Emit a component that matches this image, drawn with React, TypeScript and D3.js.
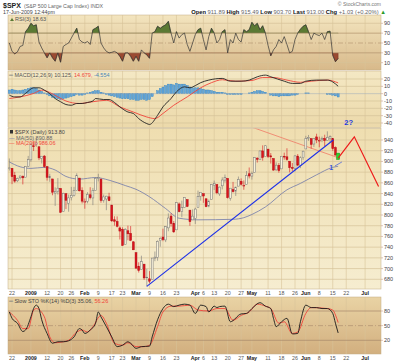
import * as d3 from "d3";

// trading days shown on the chart (day of month)
const DEC08 = [19, 22, 23, 24, 26, 29, 30, 31];
const JAN09 = [2, 5, 6, 7, 8, 9, 12, 13, 14, 15, 16, 20, 21, 22, 23, 26, 27, 28, 29, 30];
const FEB09 = [2, 3, 4, 5, 6, 9, 10, 11, 12, 13, 17, 18, 19, 20, 23, 24, 25, 26, 27];
const MAR09 = [2, 3, 4, 5, 6, 9, 10, 11, 12, 13, 16, 17, 18, 19, 20, 23, 24, 25, 26, 27, 30, 31];
const APR09 = [1, 2, 3, 6, 7, 8, 9, 13, 14, 15, 16, 17, 20, 21, 22, 23, 24, 27, 28, 29, 30];
const MAY09 = [1, 4, 5, 6, 7, 8, 11, 12, 13, 14, 15, 18, 19, 20, 21, 22, 26, 27, 28, 29];
const JUN09 = [1, 2, 3, 4, 5, 8, 9, 10, 11, 12, 15, 16, 17, 18, 19, 22, 23, 24, 25, 26, 29, 30];
const JUL09 = [1, 2, 6, 7, 8, 9, 10];

const MONTHS: [string, number[]][] = [
  ["2008-12", DEC08], ["2009-01", JAN09], ["2009-02", FEB09], ["2009-03", MAR09],
  ["2009-04", APR09], ["2009-05", MAY09], ["2009-06", JUN09], ["2009-07", JUL09],
];
const dates = MONTHS.flatMap(([m, ds]) => ds.map((d) => `${m}-${String(d).padStart(2, "0")}`));

const tickDates = [
  "2008-12-22", "2009-01-02", "2009-01-12", "2009-01-20", "2009-01-26", "2009-02-02", "2009-02-09",
  "2009-02-17", "2009-02-23", "2009-03-02", "2009-03-09", "2009-03-16", "2009-03-23", "2009-04-01",
  "2009-04-06", "2009-04-13", "2009-04-20", "2009-04-27", "2009-05-01", "2009-05-11", "2009-05-18",
  "2009-05-26", "2009-06-01", "2009-06-08", "2009-06-15", "2009-06-22", "2009-07-01",
];
const tickLabels = [
  "22", "2009", "12", "20", "26", "Feb", "9", "17", "23", "Mar", "9", "16", "23", "Apr",
  "6", "13", "20", "27", "May", "11", "18", "26", "Jun", "8", "15", "22", "Jul",
];

// daily OHLC, $SPX
const opens = [
  886.96, 887.2, 874.3, 863.9, 869.5, 872.4, 870.6, 890.6, 902.99, 929.2,
  931.2, 927.4, 905.7, 909.9, 890.4, 869.5, 867.3, 841.0, 844.5, 849.6,
  806.8, 839.7, 822.0, 832.5, 836.6, 845.7, 868.9, 845.7, 823.1, 825.7,
  837.8, 831.8, 846.1, 868.2, 866.9, 827.4, 829.9, 833.9, 818.6, 791.1,
  787.9, 775.9, 773.3, 744.7, 770.6, 765.8, 749.9, 729.6, 704.4, 698.6,
  708.3, 684.0, 680.8, 679.3, 719.6, 720.9, 751.97, 758.8, 753.5, 776.0,
  797.9, 784.6, 772.3, 820.6, 806.8, 814.1, 828.7, 809.1, 790.9, 793.6,
  814.5, 835.1, 839.8, 830.3, 816.8, 829.3, 855.7, 856.9, 839.4, 854.5,
  865.2, 868.3, 831.3, 847.3, 844.6, 853.9, 862.8, 854.5, 856.9, 877.0,
  872.7, 879.2, 906.1, 903.96, 919.6, 909.0, 922.99, 910.5, 905.4, 884.2,
  892.8, 886.1, 909.7, 908.6, 900.4, 888.7, 887.0, 909.9, 892.96, 907.0,
  923.3, 942.9, 942.5, 932.5, 945.7, 938.1, 940.4, 942.7, 939.0, 943.4,
  942.5, 925.6, 911.89,
];
const highs = [
  905.5, 887.4, 880.4, 869.8, 873.7, 873.7, 891.1, 910.3, 934.7, 936.6,
  943.9, 927.5, 910.0, 911.9, 890.4, 877.0, 867.3, 851.6, 868.9, 849.6,
  841.7, 839.7, 838.2, 852.5, 852.5, 877.9, 868.9, 851.7, 830.8, 842.6,
  851.9, 850.6, 870.7, 877.0, 868.1, 838.2, 835.9, 841.5, 818.6, 797.6,
  797.4, 778.7, 777.0, 775.5, 780.1, 779.4, 751.3, 729.6, 711.7, 724.1,
  708.3, 699.6, 695.3, 719.7, 731.9, 752.6, 758.3, 774.5, 779.4, 803.0,
  803.0, 788.9, 823.4, 823.4, 826.8, 832.9, 828.7, 809.1, 810.5, 813.6,
  845.6, 842.6, 839.8, 830.3, 828.9, 856.9, 864.3, 856.9, 853.0, 870.4,
  875.6, 868.3, 850.1, 861.8, 852.9, 871.8, 868.3, 864.5, 882.1, 888.7,
  880.9, 907.8, 907.7, 920.3, 930.0, 930.2, 922.99, 915.6, 905.4, 898.4,
  896.97, 910.0, 916.4, 924.6, 900.4, 896.97, 911.8, 913.8, 909.5, 920.0,
  947.8, 949.4, 942.5, 942.5, 951.7, 946.3, 946.4, 949.8, 956.2, 948.6,
  942.5, 928.0, 915.49,
];
const lows = [
  883.0, 857.6, 860.2, 861.4, 866.5, 857.1, 870.6, 889.9, 899.4, 919.5,
  927.3, 902.4, 896.2, 887.9, 864.3, 862.0, 836.9, 817.0, 838.2, 803.97,
  806.8, 811.1, 806.1, 827.2, 834.6, 845.7, 844.0, 821.7, 811.7, 821.8,
  829.2, 818.4, 846.1, 862.6, 822.99, 823.0, 808.98, 825.9, 787.0, 780.1,
  777.0, 754.3, 742.4, 744.7, 752.8, 751.2, 734.5, 699.7, 692.6, 698.6,
  678.9, 666.8, 672.9, 679.3, 713.8, 714.6, 740.9, 751.1, 749.4, 769.7,
  778.4, 766.6, 772.3, 805.1, 795.9, 814.1, 814.8, 779.8, 790.9, 783.3,
  814.5, 826.7, 822.8, 814.5, 814.5, 829.3, 846.6, 838.8, 835.6, 847.8,
  860.6, 830.7, 826.8, 842.0, 835.6, 853.9, 855.1, 847.1, 856.9, 868.3,
  866.1, 879.2, 897.9, 903.4, 901.4, 909.0, 906.4, 896.1, 882.6, 882.5,
  878.9, 886.1, 903.2, 901.4, 879.6, 881.5, 881.5, 891.0, 887.5, 903.0,
  923.3, 938.5, 923.9, 927.0, 934.1, 926.4, 936.0, 928.3, 939.0, 935.7,
  919.7, 910.9, 903.70,
];
const closes = [
  887.88, 871.63, 863.16, 868.15, 872.80, 869.42, 890.64, 903.25, 931.80, 927.45,
  934.70, 906.65, 909.73, 890.35, 870.26, 871.79, 842.62, 843.74, 850.12, 805.22,
  840.24, 827.50, 831.95, 836.57, 845.71, 874.09, 845.14, 825.88, 825.44, 838.51,
  832.23, 845.85, 868.60, 869.89, 827.16, 833.74, 835.19, 826.84, 789.17, 788.42,
  778.94, 770.05, 743.33, 773.14, 764.90, 752.83, 735.09, 700.82, 696.33, 712.87,
  682.55, 683.38, 676.53, 719.60, 721.36, 750.74, 756.55, 753.89, 778.12, 794.35,
  784.04, 768.54, 822.92, 806.12, 813.88, 832.86, 815.94, 787.53, 797.87, 811.08,
  834.38, 842.50, 835.48, 815.55, 825.16, 856.56, 858.73, 841.50, 852.06, 865.30,
  869.60, 832.39, 850.08, 843.55, 851.92, 866.23, 857.51, 855.16, 873.64, 872.81,
  877.52, 907.24, 903.80, 919.53, 907.39, 929.23, 909.24, 908.35, 883.92, 893.07,
  882.88, 909.71, 908.13, 903.47, 888.33, 887.00, 910.33, 893.06, 906.83, 919.14,
  942.87, 944.74, 931.76, 942.46, 940.09, 939.14, 942.43, 939.15, 944.89, 946.21,
  923.72, 911.97, 913.00,
];

// MA(50): [trading day, value]
const ma50: [number, number][] = [
  [0, 899], [4, 890], [8, 887], [13, 889], [17, 884], [21, 872], [26, 867], [32, 870],
  [37, 865], [43, 855], [47, 848], [52, 834], [58, 812], [63, 794], [70, 791], [83, 792],
  [87, 795], [90, 801], [95, 815], [103, 847], [108, 859], [114, 875], [120, 889], [122, 891],
];

// RSI(3), one value per trading day
const rsi = [
  50, 33, 28, 32, 43, 45, 73, 80, 90, 85, 87, 52, 40, 30, 20, 30, 20, 13, 30, 11,
  43, 47, 50, 60, 70, 80, 57, 52, 50, 53, 47, 77, 80, 84, 50, 40, 33, 30, 31, 33,
  30, 23, 13, 30, 30, 23, 13, 23, 13, 36, 30, 26, 19, 70, 73, 84, 80, 84, 87, 94,
  70, 50, 73, 60, 67, 70, 47, 33, 50, 67, 77, 80, 57, 36, 63, 80, 70, 50, 57, 73,
  77, 30, 57, 50, 70, 57, 52, 77, 73, 77, 92, 85, 90, 77, 85, 70, 45, 24, 36, 43,
  57, 50, 63, 47, 30, 33, 57, 70, 78, 84, 87, 73, 57, 70, 67, 65, 70, 57, 73, 74,
  25, 12, 18.63,
];

// MACD(12,26,9): line and signal as [trading day, value]
const macdLine: [number, number][] = [
  [0, -2], [2, -4.4], [4, -4.4], [6, 0.3], [9, 8], [11, 8], [13, 4.8], [15, 0], [17, -6.6],
  [19, -11], [21, -14.8], [23, -15.8], [25, -13.4], [27, -13.4], [29, -12], [31, -10],
  [32, -6.6], [35, -8], [37, -8], [39, -12], [41, -18], [44, -25], [46, -27], [48, -34],
  [51, -40.8], [52, -42], [55, -29.5], [57, -18], [60, -6.6], [62, 2.5], [65, 9.3],
  [67, 8], [69, 11], [71, 15], [74, 18.5], [79, 20.8], [82, 17], [86, 17], [89, 18.5],
  [92, 23], [95, 25.3], [97, 23], [102, 17], [105, 14], [108, 14], [110, 17], [114, 18.5],
  [118, 18.5], [120, 16], [122, 10.125],
];
const macdSignal: [number, number][] = [
  [0, -6.6], [4, -4.4], [9, 0.3], [12, 4.8], [15, 1.6], [18, -4.4], [21, -10], [26, -13.4],
  [31, -11], [36, -9], [41, -18], [46, -25], [51, -31.8], [54, -34], [57, -27], [61, -15.8],
  [66, -4.4], [71, 8], [75, 15], [79, 19], [84, 17], [90, 18], [94, 22], [98, 22],
  [103, 18.5], [108, 15.5], [112, 17], [118, 18.5], [122, 14.679],
];
const macdHist = [
  5, 6, 5, 4, 4, 5, 6, 7, 8, 8, 7, 5, 3, 1, -1, -3, -5, -6, -7, -8,
  -7, -6, -5, -4, -3, -1, -2, -2, -1, 1, 2, 3, 4, 4, 2, 1, -1, -2, -3, -4,
  -5, -6, -7, -7, -7, -8, -8, -9, -9, -8, -8, -9, -8, -4, 0, 4, 7, 9, 11, 13,
  13, 12, 14, 13, 13, 13, 11, 9, 8, 8, 8, 7, 6, 5, 5, 4, 3, 2, 2, 2,
  1, -1, -1, -1, -1, -1, -1, 0, 0, 1, 2, 3, 4, 4, 3, 2, 0, -2, -3, -3,
  -4, -3, -3, -3, -3, -2, -2, -1, 0, 0, 1, 1, 0, 0, 0, 0, 0, 0, -1, -1,
  -2, -3, -4.554,
];

// Slow STO %K(14) %D(3): [trading day, value]
const stoK: [number, number][] = [
  [0, 78], [1, 65], [3, 55], [5, 38], [6, 41], [8, 68], [9, 85], [10, 92], [11, 85],
  [12, 62], [14, 34], [16, 14], [18, 17], [20, 17], [22, 19], [24, 27], [26, 44], [27, 41],
  [28, 34], [30, 41], [32, 55], [33, 78], [34, 68], [36, 48], [38, 27], [40, 7], [42, 10],
  [44, 17], [45, 14], [47, 3.5], [49, 7], [52, 8], [53, 27], [55, 62], [57, 85], [59, 94],
  [61, 89], [63, 92], [65, 94], [67, 92], [69, 75], [71, 92], [73, 89], [74, 78], [76, 90],
  [77, 87], [78, 89], [80, 90], [82, 58], [86, 74], [88, 75], [90, 85], [93, 97], [95, 90],
  [97, 85], [98, 65], [99, 48], [101, 58], [103, 65], [105, 33], [107, 34], [108, 58],
  [110, 92], [112, 87], [114, 87], [116, 85], [118, 85], [120, 75], [121, 55], [122, 35.06],
];
const stoD: [number, number][] = [
  [0, 78], [3, 61], [5, 44], [7, 44], [9, 82], [10, 85], [13, 68], [15, 27], [17, 15],
  [20, 17], [22, 20], [25, 37], [27, 41], [29, 37], [31, 48], [34, 71], [36, 55], [39, 14],
  [42, 10], [44, 15], [47, 7], [50, 7], [52, 10], [55, 48], [57, 78], [60, 90], [63, 90],
  [67, 92], [70, 82], [74, 80], [77, 85], [80, 85], [83, 61], [86, 71], [89, 78], [92, 94],
  [95, 90], [97, 85], [100, 55], [102, 58], [105, 34], [107, 37], [110, 75], [112, 87],
  [118, 85], [120, 82], [121, 72], [122, 56.26],
];

// hand-drawn annotations: [trading day, price]
const supportLine: [number, number][] = [[51, 666.8], [120.2, 940]];
const resistLine: [number, number][] = [[90, 964], [122, 907]];
const projection: [number, number][] = [[122, 906], [128, 946], [137, 853]];

const FONT = "Liberation Sans, Arial, Helvetica, sans-serif";
const LEFT = 8;
const RIGHT = 381;
const RSI_P = { top: 15, bottom: 70 };
const MACD_P = { top: 71, bottom: 127.5 };
const PRICE_P = { top: 128.5, bottom: 289 };
const STO_P = { top: 297, bottom: 354 };

const GRID = "#d6c399";
const LEVEL = "#b0926c";

export default function App() {
  const x = d3.scaleLinear().domain([-0.5, 137.9]).range([LEFT, RIGHT]);
  const yRsi = d3.scaleLinear().domain([10, 90]).range([62.7, 23.3]);
  const yMacd = d3.scaleLinear().domain([-40, 20]).range([123, 79]);
  const yPrice = d3.scaleLinear().domain([680, 940]).range([279.3, 140]);
  const ySto = d3.scaleLinear().domain([20, 80]).range([340.3, 311]);

  const tickX = tickDates.map((d) => x(dates.indexOf(d)));
  const bw = 1.9;

  const panel = (p: { top: number; bottom: number }, grad: string, key: string) => (
    <g key={key}>
      <rect x={LEFT} y={p.top} width={RIGHT - LEFT} height={p.bottom - p.top} fill={`url(#${grad})`} stroke="#c2ad84" strokeWidth={0.5} />
      {tickX.map((tx, i) => (
        <line key={i} x1={tx} x2={tx} y1={p.top} y2={p.bottom} stroke={GRID} strokeWidth={0.6} />
      ))}
    </g>
  );

  const rightLabels = (ticks: number[], scale: d3.ScaleLinear<number, number>, key: string) => (
    <g key={key}>
      {ticks.map((t) => (
        <g key={t}>
          <line x1={RIGHT} x2={RIGHT + 2} y1={scale(t)} y2={scale(t)} stroke="#c9a08a" strokeWidth={0.6} />
          <text x={RIGHT + 3} y={scale(t)} dy="0.35em" fontSize={5.5} fill="#444">{t}</text>
        </g>
      ))}
    </g>
  );

  const hLine = (y: number, key: string, dashed = false, color = LEVEL) => (
    <line key={key} x1={LEFT} x2={RIGHT} y1={y} y2={y} stroke={color} strokeWidth={dashed ? 0.6 : 0.7} strokeDasharray={dashed ? "5 2 1 2" : undefined} />
  );

  // RSI
  const rsiLine = d3.line<number>().x((_, i) => x(i)).y((d) => yRsi(d))(rsi) || "";
  const rsiUp = d3.area<number>().x((_, i) => x(i)).y0(yRsi(70)).y1((d) => yRsi(d))(rsi) || "";
  const rsiDn = d3.area<number>().x((_, i) => x(i)).y0(yRsi(30)).y1((d) => yRsi(d))(rsi) || "";

  // MACD
  const mLine = d3.line<[number, number]>().x((d) => x(d[0])).y((d) => yMacd(d[1])).curve(d3.curveMonotoneX);
  // price
  const pLine = d3.line<[number, number]>().x((d) => x(d[0])).y((d) => yPrice(d[1]));
  const maPath = d3.line<[number, number]>().x((d) => x(d[0])).y((d) => yPrice(d[1])).curve(d3.curveMonotoneX)(ma50) || "";
  // STO
  const sLine = d3.line<[number, number]>().x((d) => x(d[0])).y((d) => ySto(d[1])).curve(d3.curveMonotoneX);

  const priceTicks = d3.range(680, 941, 20);

  const candles = closes.map((c, i) => {
    const o = opens[i];
    const up = i === 0 ? c >= o : c >= closes[i - 1];
    const color = up ? "#3a3a3a" : "#d8141c";
    const hollow = c > o;
    const top = yPrice(Math.max(o, c));
    const h = Math.max(0.6, yPrice(Math.min(o, c)) - top);
    const cx = x(i);
    return (
      <g key={i}>
        <line x1={cx} x2={cx} y1={yPrice(highs[i])} y2={yPrice(lows[i])} stroke={up ? "#777" : "#d8141c"} strokeWidth={0.6} />
        <rect x={cx - bw / 2} y={top} width={bw} height={h} fill={hollow ? "#f7f0da" : color} stroke={up ? "#777" : "#b50f16"} strokeWidth={0.5} />
      </g>
    );
  });

  const last = closes.length - 1;

  const dateRow = (y: number, key: string) => (
    <g key={key}>
      {tickLabels.map((l, i) => {
        const bold = /[A-Za-z]/.test(l) || l === "2009";
        return (
          <text key={i} x={tickX[i]} y={y} textAnchor="middle" fontSize={5.3} fontWeight={bold ? "bold" : "normal"} fill={bold ? "#222" : "#555"}>
            {l}
          </text>
        );
      })}
    </g>
  );

  return (
    <div style={{ position: "fixed", left: 0, top: 0 }}>
      <svg width={400} height={363} style={{ display: "block", background: "#fff", fontFamily: FONT }}>
        <defs>
          <linearGradient id="gRsi" x1="0" y1="0" x2="0" y2="1">
            <stop offset="0" stopColor="#f3e5bf" />
            <stop offset="1" stopColor="#d8b98a" />
          </linearGradient>
          <linearGradient id="gMacd" x1="0" y1="0" x2="0" y2="1">
            <stop offset="0" stopColor="#f4e8c4" />
            <stop offset="1" stopColor="#ecd9aa" />
          </linearGradient>
          <linearGradient id="gPrice" x1="0" y1="0" x2="0" y2="1">
            <stop offset="0" stopColor="#efdeb0" />
            <stop offset="1" stopColor="#f6edd0" />
          </linearGradient>
          <linearGradient id="gSto" x1="0" y1="0" x2="0" y2="1">
            <stop offset="0" stopColor="#e9d3a4" />
            <stop offset="1" stopColor="#d2af7f" />
          </linearGradient>
          <clipPath id="cRsiUp">
            <rect x={LEFT} y={RSI_P.top} width={RIGHT - LEFT} height={yRsi(70) - RSI_P.top} />
          </clipPath>
          <clipPath id="cRsiDn">
            <rect x={LEFT} y={yRsi(30)} width={RIGHT - LEFT} height={RSI_P.bottom - yRsi(30)} />
          </clipPath>
          <clipPath id="cPrice">
            <rect x={LEFT} y={PRICE_P.top} width={RIGHT - LEFT} height={PRICE_P.bottom - PRICE_P.top} />
          </clipPath>
        </defs>

        {/* header */}
        <text x={3} y={8} fontSize={7} fontWeight="bold" fill="#222">$SPX</text>
        <text x={24} y={8} fontSize={5.3} fill="#666">(S&amp;P 500 Large Cap Index) INDX</text>
        <text x={3} y={14} fontSize={5.3} fill="#444">17-Jun-2009 12:44pm</text>
        <text x={RIGHT} y={6} textAnchor="end" fontSize={5} fill="#777">© StockCharts.com</text>
        <text x={386} y={14} textAnchor="end" fontSize={5.8} fill="#666">
          <tspan fontWeight="bold" fill="#111">Open</tspan> 911.89 <tspan fontWeight="bold" fill="#111">High</tspan> 915.49{" "}
          <tspan fontWeight="bold" fill="#111">Low</tspan> 903.70 <tspan fontWeight="bold" fill="#111">Last</tspan> 913.00{" "}
          <tspan fontWeight="bold" fill="#111">Chg</tspan> +1.03 (+0.20%) <tspan fill="#2a9a2a">▲</tspan>
        </text>

        {/* RSI panel */}
        {panel(RSI_P, "gRsi", "rsiBg")}
        {[90, 10].map((t) => hLine(yRsi(t), `rg${t}`, false, GRID))}
        <path d={rsiUp} clipPath="url(#cRsiUp)" fill="#5b7a34" stroke="#3b5220" strokeWidth={0.4} />
        <path d={rsiDn} clipPath="url(#cRsiDn)" fill="#9b4a31" stroke="#6b2c1c" strokeWidth={0.4} />
        {hLine(yRsi(70), "r70")}
        {hLine(yRsi(30), "r30")}
        {hLine(yRsi(50), "r50", true)}
        <path d={rsiLine} fill="none" stroke="#333" strokeWidth={0.7} />
        <path d="M10,21 l2,-3 l2,3 z" fill="#5b7a34" />
        <text x={15} y={21.3} fontSize={5.5} fill="#555">RSI(3) 18.63</text>
        {rightLabels([90, 70, 50, 30, 10], yRsi, "rsiAx")}

        {/* MACD panel */}
        {panel(MACD_P, "gMacd", "macdBg")}
        {[20, 10, -10, -20, -30, -40].map((t) => hLine(yMacd(t), `mg${t}`, false, GRID))}
        {macdHist.map((v, i) => (
          <rect key={i} x={x(i) - 1} y={Math.min(yMacd(0), yMacd(v))} width={2} height={Math.abs(yMacd(v) - yMacd(0))} fill="#62a6d9" stroke="#2f7fc0" strokeWidth={0.4} />
        ))}
        <line x1={LEFT} x2={RIGHT} y1={yMacd(0)} y2={yMacd(0)} stroke="#9ab" strokeWidth={0.5} />
        <path d={mLine(macdSignal) || ""} fill="none" stroke="#f0443a" strokeWidth={0.9} />
        <path d={mLine(macdLine) || ""} fill="none" stroke="#222" strokeWidth={0.9} />
        <text x={9} y={76.8} fontSize={5.5} fill="#555">
          <tspan fill="#777">═</tspan> MACD(12,26,9) 10.125, <tspan fill="#f0443a">14.679,</tspan> <tspan fill="#4a86b8">-4.554</tspan>
        </text>
        {rightLabels([20, 10, 0, -10, -20, -30, -40], yMacd, "macdAx")}

        {/* price panel */}
        {panel(PRICE_P, "gPrice", "priceBg")}
        {priceTicks.map((t) => hLine(yPrice(t), `pg${t}`, false, GRID))}
        <g clipPath="url(#cPrice)">
          <path d={maPath} fill="none" stroke="#7078aa" strokeWidth={0.8} />
          <path d={pLine(resistLine) || ""} fill="none" stroke="#f07a66" strokeWidth={0.8} />
          {candles}
          <rect x={x(last) - 1.6} y={yPrice(highs[last])} width={3.2} height={yPrice(lows[last]) - yPrice(highs[last])} fill="#2ed12e" stroke="#18991a" strokeWidth={0.5} />
          <path d={pLine(supportLine) || ""} fill="none" stroke="#1a2ee8" strokeWidth={1.1} />
          <path d={pLine(projection) || ""} fill="none" stroke="#ee1c1c" strokeWidth={1.2} />
          <path d={pLine([[120.8, 891.5], [123.4, 899]]) || ""} fill="none" stroke="#3a56e0" strokeWidth={0.7} />
          <text x={x(119.4)} y={yPrice(889.5)} dy="0.35em" textAnchor="middle" fontSize={7} fontWeight="bold" fill="#3a56e0">1</text>
        </g>
        <text x={x(125.9)} y={yPrice(972)} dy="0.35em" textAnchor="middle" fontSize={7.5} fontWeight="bold" fill="#2038e0">2?</text>
        <rect x={10} y={130} width={3} height={3.5} fill="#333" />
        <text x={15} y={133.8} fontSize={5.5} fill="#444">$SPX (Daily) 913.80</text>
        <text x={9} y={139.5} fontSize={5.5} fill="#7078aa">— <tspan fill="#666">MA(50) 890.88</tspan></text>
        <text x={9} y={145.2} fontSize={5.5} fill="#f0443a">— MA(200) 986.06</text>
        {rightLabels(priceTicks.slice().reverse(), yPrice, "priceAx")}

        {/* date rows */}
        {dateRow(295.3, "d1")}
        {dateRow(360.3, "d2")}

        {/* STO panel */}
        {panel(STO_P, "gSto", "stoBg")}
        {hLine(ySto(80), "s80", false, "#a8886a")}
        {hLine(ySto(20), "s20", false, "#a8886a")}
        {hLine(ySto(50), "s50", true, "#a8886a")}
        <path d={sLine(stoD) || ""} fill="none" stroke="#f0443a" strokeWidth={0.9} />
        <path d={sLine(stoK) || ""} fill="none" stroke="#1a1a1a" strokeWidth={0.9} />
        <text x={9} y={302.6} fontSize={5.5} fill="#444">
          <tspan fill="#777">═</tspan> Slow STO %K(14) %D(3) 35.06, <tspan fill="#f0443a">56.26</tspan>
        </text>
        {rightLabels([80, 50, 20], ySto, "stoAx")}
      </svg>
    </div>
  );
}
